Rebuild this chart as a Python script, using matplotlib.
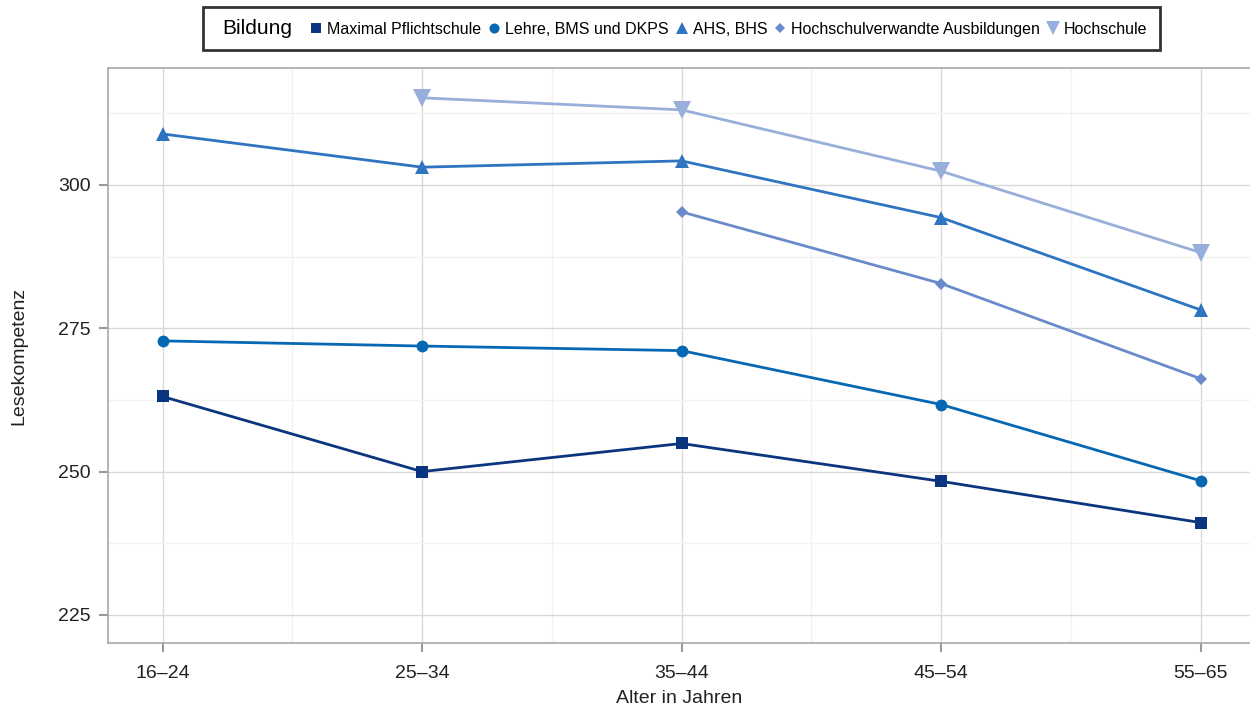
import matplotlib
matplotlib.use("Agg")
import matplotlib.pyplot as plt
from matplotlib.lines import Line2D
from matplotlib.transforms import ScaledTranslation
import numpy as np

plt.rcParams['font.family'] = ['Liberation Sans', 'DejaVu Sans']

# Daten
altersgruppen = ['16\u201324', '25\u201334', '35\u201344', '45\u201354', '55\u201365']
pflichtschule = [263.1, 250.0, 254.9, 248.3, 241.1]
lehre = [272.8, 271.9, 271.1, 261.7, 248.4]
ahs_bhs = [308.9, 303.1, 304.2, 294.3, 278.2]
hochschulverwandt = [np.nan, np.nan, 295.3, 282.8, 266.2]
hochschule = [np.nan, 315.2, 313.1, 302.4, 288.2]

serien = [
    ('Maximal Pflichtschule', pflichtschule, '#0B367F', 's', 9),
    ('Lehre, BMS und DKPS', lehre, '#0668B3', 'o', 8.5),
    ('AHS, BHS', ahs_bhs, '#2E74C0', '^', 10.5),
    ('Hochschulverwandte Ausbildungen', hochschulverwandt, '#6A8BCB', 'D', 6),
    ('Hochschule', hochschule, '#98AEDB', 'v', 12.5),
]

fig = plt.figure(figsize=(12.5, 7.11), dpi=100)
ax = fig.add_axes([108 / 1250, 1 - 643 / 711, (1250 - 108) / 1250, (643 - 68) / 711])

x = np.arange(1, len(altersgruppen) + 1)
handles = [Line2D([], [], lw=0, marker='none')]
labels = ['Bildung']
for name, werte, farbe, marker, ms in serien:
    ax.plot(x, werte, color=farbe, lw=2, marker=marker, ms=ms, markeredgewidth=0)
    handles.append(Line2D([], [], lw=0, color=farbe, marker=marker, ms=ms * 0.85,
                          markeredgewidth=0))
    labels.append(name)

ax.set_xlim(0.79, 5.19)
ax.set_ylim(220.1, 320.4)
ax.set_xticks(x)
ax.set_xticklabels(altersgruppen)
ax.set_yticks([225, 250, 275, 300])
ax.set_xticks([1.5, 2.5, 3.5, 4.5], minor=True)
ax.set_yticks([237.5, 262.5, 287.5, 312.5], minor=True)
ax.grid(True, which='major', color='#d9d9d9', lw=1)
ax.grid(True, which='minor', color='#f2f2f2', lw=1)
ax.set_axisbelow(True)
ax.tick_params(axis='both', which='major', length=6.5, width=1.5, color='#9a9a9a',
               labelsize=14, labelcolor='#222222')
ax.tick_params(axis='y', which='major', pad=6)
ax.tick_params(axis='x', which='major', pad=9)
ax.tick_params(axis='both', which='minor', length=0)
ax.spines['right'].set_visible(False)
for s in ['left', 'bottom', 'top']:
    ax.spines[s].set_color('#a8a8a8')
    ax.spines[s].set_linewidth(1.2)
ax.set_xlabel('Alter in Jahren', fontsize=14, color='#222222', labelpad=6)
ax.set_ylabel('Lesekompetenz', fontsize=14, color='#222222', labelpad=22)

leg = fig.legend(handles, labels, loc='upper center', bbox_to_anchor=(0.545, 0.99),
                 ncol=6, fontsize=11.5, frameon=True,
                 handlelength=0.9, handletextpad=0.25, columnspacing=0.35,
                 borderpad=0.75, borderaxespad=0, fancybox=False)
titel = leg.get_texts()[0]
titel.set_fontsize(15)
# Titel etwas nach links ruecken (leerer Handle davor)
titel.set_transform(titel.get_transform() + ScaledTranslation(-8 / 72, 0, fig.dpi_scale_trans))
leg.get_frame().set_edgecolor('black')
leg.get_frame().set_linewidth(2)

fig.savefig('out.png', dpi=100)
